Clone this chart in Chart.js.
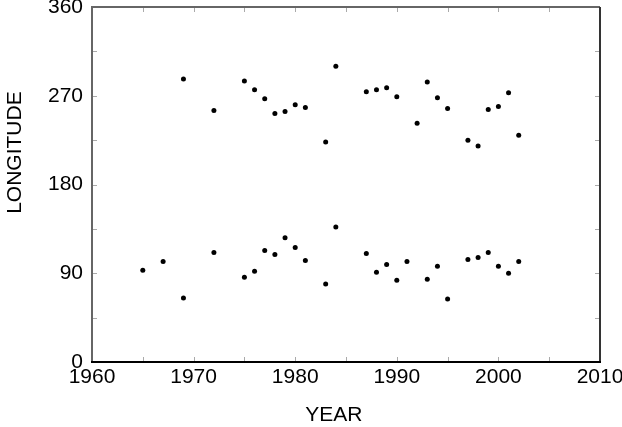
<!DOCTYPE html>
<html>
<head>
<meta charset="utf-8">
<script src="https://cdn.jsdelivr.net/npm/chart.js@4"></script>
<style>
  html, body { margin: 0; padding: 0; background: #fff; }
  #wrap { width: 622px; height: 427px; }
</style>
</head>
<body>
<div id="wrap"><canvas id="chart" width="622" height="427"></canvas></div>
<script>
// Upper branch (~250-300 deg)
const upperYears = [1969, 1972, 1975, 1976, 1977, 1978, 1979, 1980, 1981, 1983, 1984, 1987, 1988,
  1989, 1990, 1992, 1993, 1994, 1995, 1997, 1998, 1999, 2000, 2001, 2002]
const upperLon = [287, 255, 285, 276, 267, 252, 254, 261, 258, 223, 300, 274, 276,
  278, 269, 242, 284, 268, 257, 225, 219, 256, 259, 273, 230]

// Lower branch (~60-140 deg)
const lowerYears = [1965, 1967, 1969, 1972, 1975, 1976, 1977, 1978, 1979, 1980, 1981, 1983, 1984,
  1987, 1988, 1989, 1990, 1991, 1993, 1994, 1995, 1997, 1998, 1999, 2000, 2001, 2002]
const lowerLon = [93, 102, 65, 111, 86, 92, 113, 109, 126, 116, 103, 79, 137,
  110, 91, 99, 83, 102, 84, 97, 64, 104, 106, 111, 97, 90, 102]

const xTicks = [1960, 1965, 1970, 1975, 1980, 1985, 1990, 1995, 2000, 2005, 2010]
const yTicks = [0, 45, 90, 135, 180, 225, 270, 315, 360]

const FONT = "'Liberation Sans', Arial, sans-serif"
const FONT_SIZE = 21

// frame, inward ticks on all four sides, axis titles
const framePlugin = {
  id: "frame",
  afterDraw(chart) {
    const { ctx, chartArea: a, scales: { x, y } } = chart
    ctx.save()
    // ticks
    ctx.strokeStyle = "#aaa"
    ctx.lineWidth = 1
    ctx.beginPath()
    xTicks.forEach(v => {
      const px = Math.round(x.getPixelForValue(v)) + 0.5
      ctx.moveTo(px, a.bottom); ctx.lineTo(px, a.bottom - 5)
      ctx.moveTo(px, a.top); ctx.lineTo(px, a.top + 5)
    })
    yTicks.forEach(v => {
      const py = Math.round(y.getPixelForValue(v)) + 0.5
      ctx.moveTo(a.left, py); ctx.lineTo(a.left + 5, py)
      ctx.moveTo(a.right, py); ctx.lineTo(a.right - 5, py)
    })
    ctx.stroke()
    // borders
    ctx.lineWidth = 2
    ctx.strokeStyle = "#666"
    ctx.beginPath()
    ctx.moveTo(a.left, a.bottom); ctx.lineTo(a.left, a.top); ctx.lineTo(a.right, a.top)
    ctx.stroke()
    ctx.strokeStyle = "#333"
    ctx.beginPath()
    ctx.moveTo(a.right, a.top); ctx.lineTo(a.right, a.bottom)
    ctx.stroke()
    ctx.strokeStyle = "#000"
    ctx.beginPath()
    ctx.moveTo(a.left - 1, a.bottom); ctx.lineTo(a.right + 1, a.bottom)
    ctx.stroke()
    // axis titles
    ctx.fillStyle = "#000"
    ctx.font = `${FONT_SIZE}px ${FONT}`
    ctx.textAlign = "center"
    ctx.textBaseline = "middle"
    ctx.fillText("YEAR", a.left + (a.right - a.left) * 0.476, 415)
    ctx.translate(15, a.top + (a.bottom - a.top) * 0.41)
    ctx.rotate(-Math.PI / 2)
    ctx.fillText("LONGITUDE", 0, 0)
    ctx.restore()
  }
}

new Chart(document.getElementById("chart"), {
  type: "scatter",
  data: {
    datasets: [
      {
        label: "upper",
        data: upperYears.map((yr, i) => ({ x: yr, y: upperLon[i] })),
        backgroundColor: "#000",
        borderColor: "#000",
        pointRadius: 2.5,
        borderWidth: 0,
      },
      {
        label: "lower",
        data: lowerYears.map((yr, i) => ({ x: yr, y: lowerLon[i] })),
        backgroundColor: "#000",
        borderColor: "#000",
        pointRadius: 2.5,
        borderWidth: 0,
      },
    ],
  },
  options: {
    responsive: false,
    animation: false,
    layout: { padding: { left: 0, right: 22, top: 7, bottom: 0 } },
    plugins: { legend: { display: false }, tooltip: { enabled: false } },
    scales: {
      x: {
        type: "linear",
        min: 1960,
        max: 2010,
        afterBuildTicks: s => { s.ticks = xTicks.map(v => ({ value: v })) },
        afterFit: s => { s.height = 65; s.paddingLeft = 0; s.paddingRight = 0 },
        grid: { display: false, drawTicks: false, tickLength: 0 },
        border: { display: false },
        ticks: {
          color: "#000",
          font: { family: FONT, size: FONT_SIZE },
          padding: 3,
          maxRotation: 0,
          autoSkip: false,
          callback: v => (v % 10 === 0 ? String(v) : ""),
        },
      },
      y: {
        min: 0,
        max: 360,
        afterBuildTicks: s => { s.ticks = yTicks.map(v => ({ value: v })) },
        afterFit: s => { s.width = 92; s.paddingTop = 0; s.paddingBottom = 0 },
        grid: { display: false, drawTicks: false, tickLength: 0 },
        border: { display: false },
        ticks: {
          color: "#000",
          font: { family: FONT, size: FONT_SIZE },
          padding: 9,
          autoSkip: false,
          callback: v => (v % 90 === 0 ? String(v) : ""),
        },
      },
    },
  },
  plugins: [framePlugin],
})
</script>
</body>
</html>
